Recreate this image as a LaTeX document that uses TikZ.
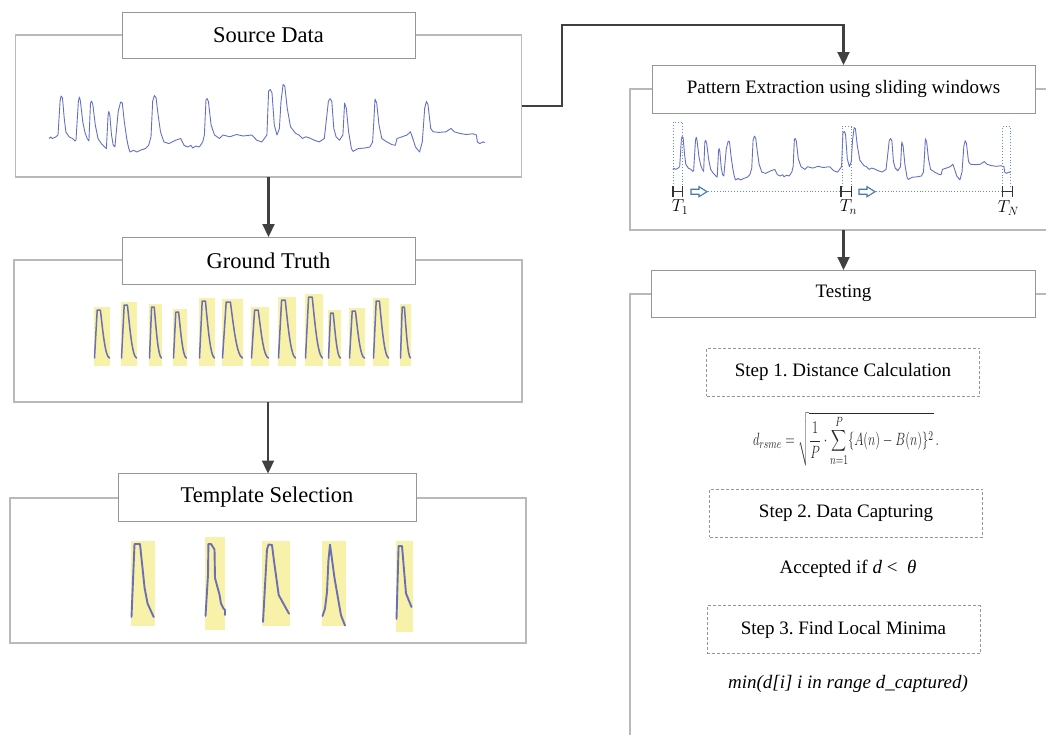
\documentclass[tikz,border=0pt]{standalone}
\usepackage{graphicx}
\usepackage{fontspec}
\setmainfont{Liberation Serif}
\frenchspacing
\usetikzlibrary{arrows.meta}
\definecolor{outerc}{RGB}{185,185,185}
\definecolor{titlec}{RGB}{150,150,150}
\definecolor{connc}{RGB}{64,64,64}
\definecolor{hlc}{RGB}{247,241,170}
\definecolor{curvec}{RGB}{108,111,180}
\definecolor{sigc}{RGB}{100,112,196}
\definecolor{winc}{RGB}{100,140,210}
\definecolor{harrc}{RGB}{70,120,175}
\definecolor{dashc}{RGB}{150,150,150}
\definecolor{formc}{RGB}{40,40,40}
\newcommand\sigline{%
\draw[sig] (49,138.5) -- (50.7,137) -- (52.4,138.5) -- (55.7,137) -- (58,135)
 -- (60.1,101) -- (61.1,96) -- (62.5,98) -- (64.2,118) -- (65.9,132) -- (69.3,137) -- (72.6,138.5) -- (75,141) -- (76,140)
 -- (78.4,101) -- (79.4,97) -- (80.4,101) -- (82.8,122) -- (85.1,133) -- (87.2,138.5) -- (88.9,141)
 -- (90.5,103) -- (91.6,101) -- (92.9,105) -- (95.3,125) -- (98,138.5) -- (101.4,143.6) -- (104.7,147) -- (106.4,148.6)
 -- (108.1,115) -- (108.8,111.5) -- (109.8,115) -- (111.5,135) -- (113.2,145) -- (114.9,147)
 -- (118.2,111.5) -- (120.6,102) -- (122.3,103) -- (124.3,121.6) -- (126.7,138.5) -- (128.4,147) -- (130,152) -- (133.4,150.3) -- (136.8,152) -- (140.2,150.3) -- (145.3,148.6) -- (148.6,145.3) -- (151,136.8)
 -- (152.7,101) -- (154.4,95.6) -- (156.1,98) -- (158.1,115) -- (160.5,131.8) -- (163.9,141.9) -- (168.9,143.6) -- (175.7,140.2) -- (180.7,138.5) -- (184.1,145.3) -- (187.5,147) -- (190.9,145.3) -- (192.6,148) -- (196,146) -- (199.3,147) -- (202.7,141.9) -- (204.4,135)
 -- (206,99.7) -- (207.1,98.6) -- (208.4,101.4) -- (211.1,125) -- (214.5,135) -- (219.6,138.5) -- (223,135) -- (229.7,136.8) -- (236.5,134.5) -- (243.2,136) -- (251.7,135) -- (256.8,140.2) -- (261.8,142) -- (266.9,135)
 -- (268.6,91.2) -- (270.3,89.5) -- (272,92.9) -- (274.3,125) -- (277,135) -- (279.4,128.4) -- (281,101.4) -- (283.1,84.5) -- (284.8,86.1) -- (287.2,108.1) -- (290.5,126.7) -- (295.6,133.4) -- (299,135) -- (302.4,138.5) -- (305.7,136.8) -- (309.1,137.8) -- (314.2,140.2) -- (319.3,141.9) -- (324.3,138.5)
 -- (328.4,101.4) -- (330,98.6) -- (331.8,101.4) -- (333.8,128.4) -- (336.1,136.8) -- (339.5,140.2) -- (342.9,135) -- (344.6,103)
 -- (346.3,108.1) -- (348.6,131.8) -- (351.4,148.6) -- (353,151.4) -- (358.1,148.6) -- (364.9,148) -- (369.9,147) -- (372.6,141.9) -- (374,118.2) -- (375,99) -- (376.7,103) -- (379,125) -- (381.8,138.5) -- (386.8,141.9) -- (391.9,144.6) -- (395.3,145.3) -- (397,138.5) -- (402,136.8) -- (407,135) -- (410.5,131.8) -- (412.8,138.5) -- (415.5,147) -- (419.6,152) -- (422.3,141.9) -- (424.7,108.1) -- (426.4,101.4) -- (428,104.7) -- (430.7,128.4) -- (433.1,131.8) -- (439.2,132.4) -- (446,131.8) -- (451,128.4) -- (454.4,131.8) -- (459.5,133.4) -- (466.2,134.5) -- (473,133.8) -- (476.4,135) -- (477.4,141.9) -- (479.7,143.6) -- (483.1,141.9) -- (484.8,142.6);}
\newcommand\gtspike[3]{%
 \pgfmathsetmacro\gw{#2-#1}%
 \pgfmathsetmacro\gh{366-#3}%
 \fill[hl] (#1,#3) rectangle (#2,366);
 \draw[gtcurve] ({#1+0.5},358) -- ({#1+0.2*\gw},{#3+3}) -- ({#1+0.4*\gw},{#3+3}) .. controls ({#1+0.55*\gw},{#3+0.4*\gh}) and ({#1+0.7*\gw},{#3+0.85*\gh}) .. ({#2-0.5},358);}
\newcommand\hollowarrow[2]{%
 \draw[harr] (#1,#2-2.5) -- (#1+8,#2-2.5) -- (#1+8,#2-5) -- (#1+16,#2) -- (#1+8,#2+5) -- (#1+8,#2+2.5) -- (#1,#2+2.5) -- cycle;}
\newcommand\hbracket[3]{%
 \draw[brk] (#1,#3) -- (#2,#3) (#1,#3-5.5) -- (#1,#3+5.5) (#2,#3-5.5) -- (#2,#3+5.5);}
\begin{document}
\begin{tikzpicture}[x=1pt,y=-1pt,
 outer/.style={draw=outerc,line width=1.3pt,outer sep=0pt,inner sep=0pt},
 title/.style={draw=titlec,line width=1pt,fill=white,outer sep=0pt,inner sep=0pt},
 ltitle/.style={title,font=\fontsize{22.5}{27}\selectfont},
 rtitle/.style={title,font=\fontsize{19}{23}\selectfont},
 conn/.style={draw=connc,line width=2.2pt,-{Triangle[width=12pt,length=13pt]}},
 hl/.style={fill=hlc},
 gtcurve/.style={draw=curvec,line width=1.5pt,line join=round,line cap=round},
 tcurve/.style={draw=curvec,line width=1.9pt,line join=round,line cap=round},
 sig/.style={draw=sigc,line width=0.9pt,line join=round},
 win/.style={draw=winc,line width=0.9pt,dotted},
 harr/.style={draw=harrc,line width=1.1pt,fill=white,line join=miter},
 brk/.style={draw=black!80,line width=1.2pt},
 stepbox/.style={draw=dashc,line width=0.8pt,dash pattern=on 3pt off 2pt,minimum width=273pt,minimum height=48pt,inner sep=0pt,font=\fontsize{19}{23}\selectfont},
 plain/.style={font=\fontsize{19}{23}\selectfont,inner sep=0pt},
 tlab/.style={font=\fontsize{17}{20}\selectfont,inner sep=0pt}]
\useasboundingbox (0,0) rectangle (1046,734);

% ---------- left column ----------
\node[outer,minimum width=506pt,minimum height=142pt] (src) at (268.5,106) {};
\node[ltitle,minimum width=293pt,minimum height=46pt] (srct) at (268.5,35.5) {Source Data};
\sigline

\node[outer,minimum width=508pt,minimum height=142pt] (gt) at (268,331) {};
\node[ltitle,minimum width=293pt,minimum height=47pt] (gtt) at (268.5,260.5) {Ground Truth};
\gtspike{94}{110}{307}
\gtspike{121}{137}{302}
\gtspike{149}{162}{304}
\gtspike{173}{187}{309}
\gtspike{199}{215}{298}
\gtspike{222}{243}{299}
\gtspike{251}{269}{307}
\gtspike{278}{296}{297}
\gtspike{305}{323}{294}
\gtspike{328}{341}{310}
\gtspike{349}{365}{308}
\gtspike{373}{389}{298}
\gtspike{400}{411}{304}

\node[outer,minimum width=516pt,minimum height=145pt] (ts) at (268,570.5) {};
\node[ltitle,minimum width=298pt,minimum height=48pt] (tst) at (267,497.5) {Template Selection};
\fill[hl] (131,541) rectangle (155,626);
\draw[tcurve] (131.5,617) -- (134.5,544) -- (140,544) -- (144.6,588) -- (147.6,603.6) -- (153.7,617);
\fill[hl] (205,537) rectangle (225,630);
\draw[tcurve] (205.5,616) -- (208,575) -- (208.4,544) -- (211,544) -- (214.5,549.5) -- (215,578) -- (219.6,595) -- (221,603.6) -- (223.6,608.6) -- (225,610) -- (225,615);
\fill[hl] (262,541) rectangle (290,626);
\draw[tcurve] (263,622) -- (267,549.5) -- (268.6,544.5) -- (272,545) -- (274,561) -- (278.7,595) -- (289,613.7);
\fill[hl] (322,541) rectangle (346,626);
\draw[tcurve] (322.5,616) -- (325,608.6) -- (327,592) -- (328.4,561) -- (330,544.5) -- (334.5,578) -- (341,615.4) -- (345,625.5);
\fill[hl] (396,541) rectangle (413,632);
\draw[tcurve] (396.5,619) -- (398.6,546) -- (402,546) -- (404.7,578) -- (406,593.4) -- (411.5,607);

% ---------- right column ----------
\draw[outer] (1050,89) -- (630,89) -- (630,230) -- (1050,230);
\coordinate (patb) at (843.5,230);
\node[rtitle,minimum width=383pt,minimum height=48pt] (patt) at (843.5,89) {Pattern Extraction using sliding windows};
\begin{scope}[shift={(682,135.7)},scale=0.775,shift={(-61,-95)}]
\sigline
\end{scope}
\draw[win] (673,187) -- (673,122) -- (682,122) -- (682,187);
\draw[win] (842,187) -- (842,126.5) -- (851.5,126.5) -- (851.5,187);
\draw[win] (1002.5,187) -- (1002.5,126.5) -- (1010.5,126.5) -- (1010.5,187);
\hbracket{673}{682.5}{191.7}
\hbracket{841}{851.5}{191.7}
\hbracket{1002.5}{1012.5}{191.7}
\hollowarrow{691}{191.7}
\hollowarrow{859}{191.7}
\draw[win] (708,191.7) -- (840,191.7);
\draw[win] (876,191.7) -- (1001,191.7);
\node[tlab] (t1) at (680,207) {$T_1$};
\node[tlab] (tn) at (848.5,207) {$T_n$};
\node[tlab] (tN) at (1008.5,208) {$T_N$};

\draw[outer] (1050,294) -- (630,294) -- (630,740);
\node[rtitle,minimum width=384pt,minimum height=47pt] (test) at (843.5,293.5) {Testing};
\node[stepbox] (s1) at (843,372) {Step 1. Distance Calculation};
\node[inner sep=0pt,text=formc] (f1) at (846,439) {\resizebox*{186pt}{54pt}{\fontsize{13}{15}\selectfont$\displaystyle d_{rsme}=\sqrt{\frac{1}{P}\cdot\sum_{n=1}^{P}\{A(n)-B(n)\}^2}\,.$}};
\node[stepbox] (s2) at (846,513) {Step 2. Data Capturing};
\node[plain] (acc) at (848,569) {Accepted if \textit{d} <\ \ \textit{θ}};
\node[stepbox] (s3) at (843.5,629.5) {Step 3. Find Local Minima};
\node[plain] (mn) at (848,684) {\textit{min(d[i] i in range d\_captured)}};

% ---------- connectors ----------
\draw[conn] (src.south) -- (src.south |- gtt.north);
\draw[conn] (gt.south) -- (gt.south |- tst.north);
\coordinate (c1) at (562,25);
\draw[conn] (src.east) -| (c1) -| (patt.north);
\draw[conn] (patb) -- (test.north);
\end{tikzpicture}
\end{document}
